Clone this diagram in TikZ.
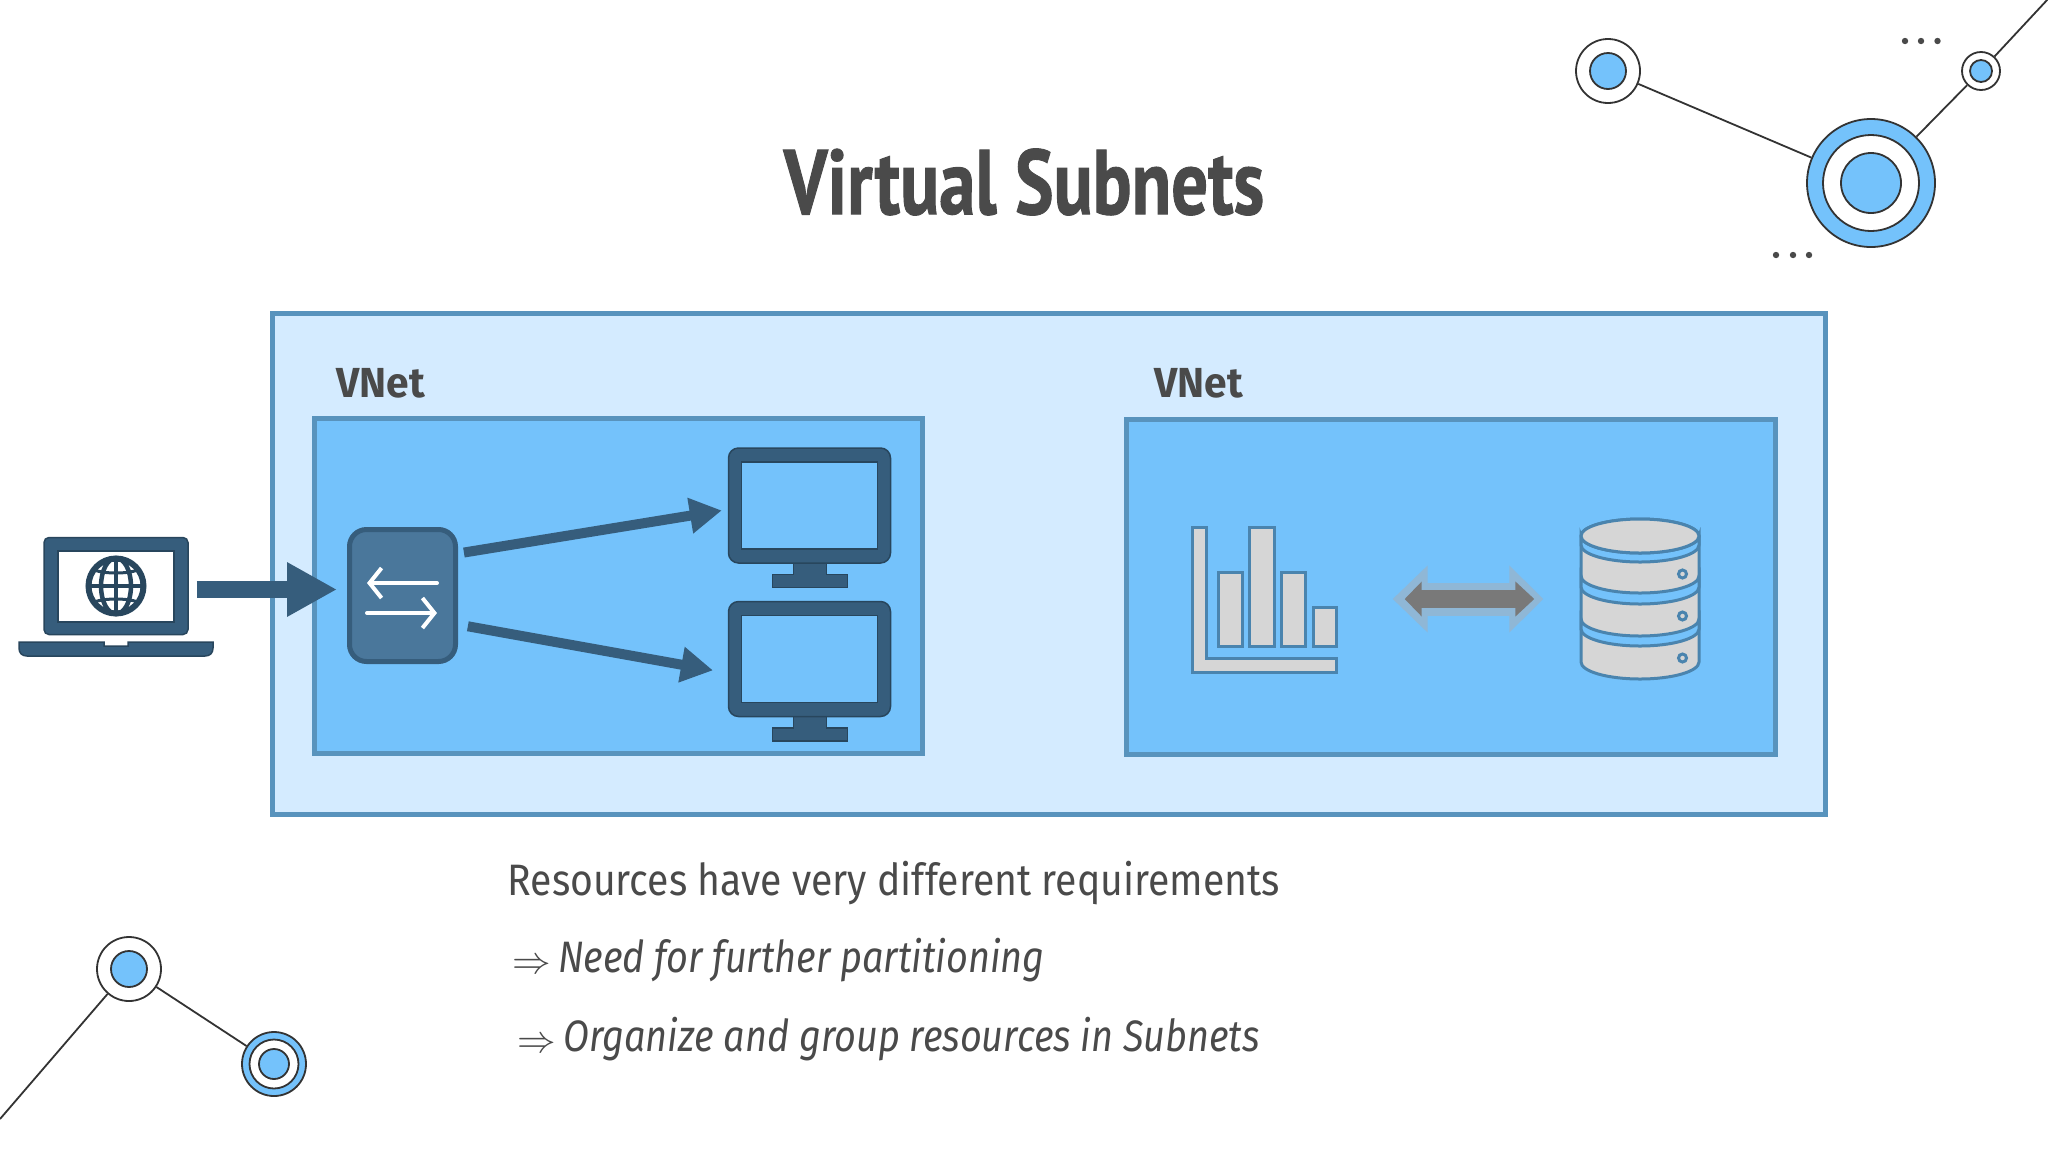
\documentclass[tikz,border=0pt]{standalone}
\usepackage{fontspec}
\setmainfont[FakeStretch=0.89,ItalicFeatures={FakeStretch=0.86}]{Fira Sans}
\newfontfamily\titlefont[FakeStretch=0.79,BoldFeatures={FakeBold=1}]{PT Sans}
\newfontfamily\labelfont[FakeStretch=0.97]{Fira Sans}
\usepackage{amsmath}
\usetikzlibrary{arrows.meta,positioning}
\definecolor{paleblue}{HTML}{D4EBFF}
\definecolor{midblue}{HTML}{74C2FB}
\definecolor{edgeblue}{HTML}{5893BD}
\definecolor{darkblue}{HTML}{365D7C}
\definecolor{routerblue}{HTML}{4A779B}
\definecolor{inkgrey}{HTML}{4A4A4A}
\definecolor{iconedge}{HTML}{4A84AE}
\definecolor{icongrey}{HTML}{D6D6D6}
\definecolor{linegrey}{HTML}{333333}
\definecolor{haloblue}{HTML}{8FB7D6}
\tikzset{
  netbox/.style={draw=edgeblue, line width=5pt, inner sep=0, fill=midblue},
  darkicon/.style={draw=darkblue!75!black, line width=1.5pt, fill=darkblue},
  greyicon/.style={draw=iconedge, line width=3pt, fill=icongrey},
  thickflow/.style={draw=darkblue, line width=#1},
  ring/.style={draw=linegrey, line width=1.8pt},
  body/.style={text=inkgrey, anchor=base west, font=\fontsize{44}{50}\selectfont},
  vnetlabel/.style={text=inkgrey, anchor=base west, font=\fontsize{42}{50}\selectfont\labelfont\bfseries},
}
\newcommand{\monitor}[3]{
  \begin{scope}[shift={(#2,#3)}]
  \draw[darkicon] (-16,57) -- (-16,69) -- (-37,69) -- (-37,82) -- (38,82) -- (38,69) -- (17,69) -- (17,57) -- cycle;
  \end{scope}
  \node (#1) [darkicon, rounded corners=10pt, minimum width=162pt, minimum height=115pt, inner sep=0] at (#2,#3) {};
  \node [draw=darkblue!75!black, line width=1.5pt, fill=midblue, minimum width=136pt, minimum height=87pt, inner sep=0] at (#1) {};
}
\newcommand{\impl}{\raisebox{-1pt}{\scalebox{1.55}{$\Rightarrow$}}}
\begin{document}
\begin{tikzpicture}[x=1pt,y=-1pt]
\clip (0,0) rectangle (2048,1152);
\fill[white] (0,0) rectangle (2048,1152);
\node (title) [text=inkgrey, font=\fontsize{92}{100}\selectfont\titlefont\bfseries] at (1024,182) {Virtual Subnets};
% boxes
\node (outer) [netbox, fill=paleblue, minimum width=1553pt, minimum height=501pt] at (1049,563.5) {};
\node (vnetA) [netbox, minimum width=608pt, minimum height=335pt] at (618.5,586) {};
\node (vnetB) [netbox, minimum width=649pt, minimum height=335pt] at (1450.5,586.5) {};
\node (labelA) [vnetlabel] at (333,397) {VNet};
\node (labelB) [vnetlabel] at (1151,397) {VNet};
% laptop
\node (laptop) [darkicon, rounded corners=5pt, minimum width=144pt, minimum height=97pt, inner sep=0] at (116,586) {};
\node (lapscreen) [draw=darkblue!75!black, line width=1.5pt, fill=white, minimum width=116pt, minimum height=71pt, inner sep=0] at (116,586.5) {};
\draw[darkicon] (19,642) -- (104,642) -- (104,646) -- (128,646) -- (128,642) -- (213,642) -- (213,648) .. controls (213,653) and (210,656) .. (205,656) -- (27,656) .. controls (22,656) and (19,653) .. (19,648) -- cycle;
\node (globe) [circle, draw=darkblue!75!black, line width=6pt, fill=white, minimum size=55pt, inner sep=0] at (116,586) {};
\draw[draw=darkblue!75!black, line width=4.5pt] (116,586) ellipse (15 and 28);
\draw[draw=darkblue!75!black, line width=4pt] (116,558) -- (116,614);
\draw[draw=darkblue!75!black, line width=4pt] (88,586) -- (144,586);
\draw[draw=darkblue!75!black, line width=3pt] (94,570) .. controls (105,574) and (127,574) .. (138,570);
\draw[draw=darkblue!75!black, line width=3pt] (94,602) .. controls (105,598) and (127,598) .. (138,602);
% router
\node (router) [draw=darkblue, line width=5pt, fill=routerblue, rounded corners=17pt, minimum width=106pt, minimum height=132pt, inner sep=0] at (402.5,595.5) {};
\draw[white, line width=4pt, line cap=round, -{Straight Barb[length=12pt,width=30pt,line width=4pt]}] (437,583) -- (367,583);
\draw[white, line width=4pt, line cap=round, -{Straight Barb[length=12pt,width=30pt,line width=4pt]}] (367,613) -- (437,613);
% monitors
\monitor{monA}{809.5}{505.5}
\monitor{monB}{809.5}{659}
% flows
\draw[thickflow=17pt, -{Triangle[length=50pt,width=51pt]}, shorten <=8pt, shorten >=10pt] ([yshift=-3.5pt]laptop.east) -- ([yshift=6pt]router.west);
\draw[thickflow=10pt, -{Triangle[length=32pt,width=34pt]}, shorten <=6pt, shorten >=6pt] ([yshift=42pt]router.east) -- ([yshift=-4pt]monA.west);
\draw[thickflow=10pt, -{Triangle[length=32pt,width=34pt]}, shorten <=10pt, shorten >=15pt] ([yshift=-29pt]router.east) -- ([yshift=-14pt]monB.west);
% chart
\node (chart) [minimum width=145pt, minimum height=146pt, inner sep=0] at (1264,599) {};
\draw[greyicon] (1192,527) -- (1206,527) -- (1206,658) -- (1336,658) -- (1336,672) -- (1192,672) -- cycle;
\draw[greyicon] (1218,572) rectangle (1242,646);
\draw[greyicon] (1249,527) rectangle (1274,646);
\draw[greyicon] (1281,572) rectangle (1305,646);
\draw[greyicon] (1313,607) rectangle (1336,646);
% database
\node (db) [minimum width=119pt, minimum height=160pt, inner sep=0] at (1640,599) {};
\draw[greyicon] (1581,536) -- (1581,662) arc[start angle=180, end angle=0, x radius=59, y radius=17] -- (1699,536) arc[start angle=0, end angle=-180, x radius=59, y radius=17] -- cycle;
\draw[greyicon, fill=midblue] (1581,536) arc[start angle=180, end angle=0, x radius=59, y radius=17] -- (1699,545) arc[start angle=0, end angle=180, x radius=59, y radius=17] -- cycle;
\draw[greyicon, fill=midblue] (1581,576) arc[start angle=180, end angle=0, x radius=59, y radius=17] -- (1699,587) arc[start angle=0, end angle=180, x radius=59, y radius=17] -- cycle;
\draw[greyicon, fill=midblue] (1581,619) arc[start angle=180, end angle=0, x radius=59, y radius=17] -- (1699,629) arc[start angle=0, end angle=180, x radius=59, y radius=17] -- cycle;
\draw[greyicon] (1581,536) arc[start angle=180, end angle=-180, x radius=59, y radius=17];
\draw[greyicon, fill=none] (1682.5,574) circle (4);
\draw[greyicon, fill=none] (1682.5,616) circle (4);
\draw[greyicon, fill=none] (1682.5,658) circle (4);
% exchange
\draw[draw=haloblue, line width=33pt, {Triangle[length=35pt,width=65pt]}-{Triangle[length=34pt,width=65pt]}, shorten <=56pt, shorten >=37pt] (chart.east) -- (db.west);
\draw[draw=gray!95!black, line width=18pt, {Triangle[length=17pt,width=34pt]}-{Triangle[length=19pt,width=34pt]}, shorten <=68pt, shorten >=46pt] (chart.east) -- (db.west);
% text
\node (lineA) [body] at (504,895) {Resources have very different requirements};
\node (lineB) [body] at (509,972) {\impl\hspace{7pt}\itshape Need for further partitioning};
\node (lineC) [body] at (514,1051) {\impl\hspace{7pt}\itshape Organize and group resources in Subnets};
% corner marks
\coordinate (cornerA) at (2048,-1);
\coordinate (cornerB) at (0,1119);
\node (ringA) [ring, circle, fill=white, minimum size=64pt, inner sep=0] at (1608,71) {};
\node (ringB) [ring, circle, fill=midblue, minimum size=128pt, inner sep=0] at (1871,183) {};
\node (ringC) [ring, circle, fill=white, minimum size=38pt, inner sep=0] at (1981,71) {};
\node (ringD) [ring, circle, fill=white, minimum size=64pt, inner sep=0] at (129,969) {};
\node (ringE) [ring, circle, fill=midblue, minimum size=64pt, inner sep=0] at (274,1064) {};
\node [ring, circle, fill=midblue, minimum size=36pt, inner sep=0] at (ringA) {};
\node [ring, circle, fill=white, minimum size=96pt, inner sep=0] at (ringB) {};
\node [ring, circle, fill=midblue, minimum size=60pt, inner sep=0] at (ringB) {};
\node [ring, circle, fill=midblue, minimum size=22pt, inner sep=0] at (ringC) {};
\node [ring, circle, fill=midblue, minimum size=36pt, inner sep=0] at (ringD) {};
\node [ring, circle, fill=white, minimum size=49pt, inner sep=0] at (ringE) {};
\node [ring, circle, fill=midblue, minimum size=30pt, inner sep=0] at (ringE) {};
\draw[ring] (ringA) -- (ringB);
\draw[ring] (ringB) -- (ringC);
\draw[ring] (ringC) -- (cornerA);
\draw[ring] (ringD) -- (ringE);
\draw[ring] (ringD) -- (cornerB);
\fill[inkgrey] (1905,41) circle (3.2) (1921,41) circle (3.2) (1937.5,41) circle (3.2);
\fill[inkgrey] (1776,255) circle (3.2) (1793,255) circle (3.2) (1809,255) circle (3.2);
\end{tikzpicture}
\end{document}
